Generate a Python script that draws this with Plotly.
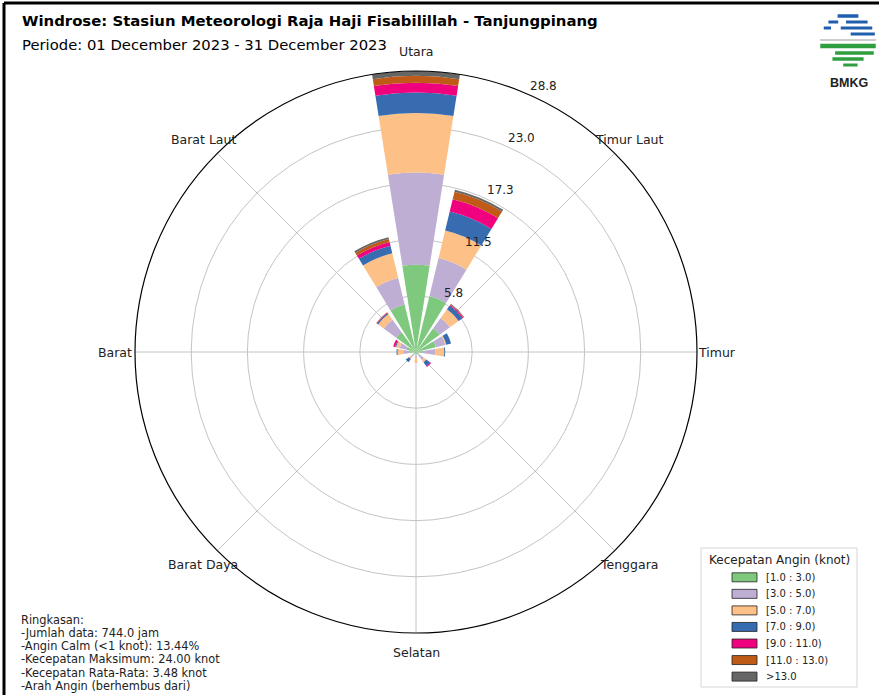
import math
import plotly.graph_objects as go

# ---------------- data ----------------
directions = ["N", "NNE", "NE", "ENE", "E", "ESE", "SE", "SSE",
              "S", "SSW", "SW", "WSW", "W", "WNW", "NW", "NNW"]
theta_deg = [0, 22.5, 45, 67.5, 90, 112.5, 135, 157.5,
             180, 202.5, 225, 247.5, 270, 292.5, 315, 337.5]

speed_bins = ["[1.0 : 3.0)", "[3.0 : 5.0)", "[5.0 : 7.0)", "[7.0 : 9.0)",
              "[9.0 : 11.0)", "[11.0 : 13.0)", ">13.0"]
bin_colors = ["#7fc97f", "#beaed4", "#fdc086", "#386cb0",
              "#f0027f", "#bf5b17", "#666666"]

# frequency (%) per direction, one list per speed bin
v_1_3 = [8.95, 5.9, 3.0, 2.1, 0.7, 0.2, 0.4, 0.2, 0.3, 0.1, 0.3, 0.2, 0.7, 1.0, 2.5, 5.0]
v_3_5 = [9.45, 4.0, 1.3, 1.0, 1.3, 0.1, 0.6, 0.05, 0.3, 0.1, 0.3, 0.1, 0.6, 0.7, 1.6, 2.8]
v_5_7 = [6.1, 2.9, 1.1, 0.1, 0.9, 0.0, 0.3, 0.0, 0.5, 0.0, 0.3, 0.0, 0.6, 0.4, 0.7, 2.6]
v_7_9 = [2.1, 2.0, 0.5, 0.5, 0.1, 0.0, 0.5, 0.0, 0.0, 0.0, 0.4, 0.0, 0.1, 0.1, 0.15, 0.8]
v_9_11 = [1.0, 1.3, 0.1, 0.0, 0.0, 0.0, 0.1, 0.0, 0.0, 0.0, 0.0, 0.0, 0.0, 0.2, 0.05, 0.4]
v_11_13 = [0.7, 0.8, 0.05, 0.0, 0.0, 0.0, 0.0, 0.0, 0.0, 0.0, 0.0, 0.0, 0.0, 0.0, 0.05, 0.3]
v_13p = [0.5, 0.2, 0.05, 0.0, 0.0, 0.0, 0.0, 0.0, 0.0, 0.0, 0.0, 0.0, 0.0, 0.0, 0.0, 0.2]
series = [v_1_3, v_3_5, v_5_7, v_7_9, v_9_11, v_11_13, v_13p]

radial_max = 28.8
radial_ticks = [5.76, 11.52, 17.28, 23.04, 28.8]
radial_ticktext = ["5.8", "11.5", "17.3", "23.0", "28.8"]

compass_vals = [0, 45, 90, 135, 180, 225, 270, 315]
compass_text = ["Utara", "Timur Laut", "Timur", "Tenggara",
                "Selatan", "Barat Daya", "Barat", "Barat Laut"]

title_text = "Windrose: Stasiun Meteorologi Raja Haji Fisabilillah - Tanjungpinang"
period_text = "Periode: 01 December 2023 - 31 December 2023"
legend_title = "Kecepatan Angin (knot)"
summary_lines = ["Ringkasan:",
                 "-Jumlah data: 744.0 jam",
                 "-Angin Calm (<1 knot): 13.44%",
                 "-Kecepatan Maksimum: 24.00 knot",
                 "-Kecepatan Rata-Rata: 3.48 knot",
                 "-Arah Angin (berhembus dari)"]

# ---------------- figure ----------------
W, H = 879, 695
FONT = "DejaVu Sans"


def px(x, y):
    return x / W, 1 - y / H


fig = go.Figure()
for name, col, vals in zip(speed_bins, bin_colors, series):
    fig.add_trace(go.Barpolar(
        r=vals, theta=theta_deg, name=name, width=18,
        marker=dict(color=col, line=dict(width=0)),
        hoverinfo="skip", showlegend=False,
    ))

cx, cy, R = 416, 352, 281
fig.update_layout(
    width=W, height=H,
    margin=dict(l=0, r=0, t=0, b=0, autoexpand=False),
    paper_bgcolor="white",
    font=dict(family=FONT, color="#222"),
    showlegend=False,
    polar=dict(
        domain=dict(x=[(cx - R) / W, (cx + R) / W],
                    y=[1 - (cy + R) / H, 1 - (cy - R) / H]),
        bgcolor="white",
        barmode="stack",
        angularaxis=dict(
            rotation=90, direction="clockwise", thetaunit="degrees",
            tickmode="array", tickvals=compass_vals, ticktext=compass_text,
            showticklabels=False,
            showline=True, linecolor="black", linewidth=1.2,
            gridcolor="#c4c4c4", gridwidth=1, ticks="",
        ),
        radialaxis=dict(
            range=[0, radial_max], tickmode="array",
            tickvals=radial_ticks, ticktext=radial_ticktext,
            showticklabels=False,
            showline=False, ticks="",
            gridcolor="#c4c4c4", gridwidth=1,
        ),
    ),
)

# axis labels placed like matplotlib's polar axes (computed from the polar geometry)
label_r = R * 1.07
for ang, txt in zip(compass_vals, compass_text):
    a = math.radians(ang)
    p = px(cx + label_r * math.sin(a), cy - label_r * math.cos(a))
    fig.add_annotation(text=txt, x=p[0], y=p[1], xref="paper", yref="paper",
                       xanchor="center", yanchor="middle", showarrow=False,
                       font=dict(size=12.5, family=FONT, color="#222"))

rl_ang = math.radians(22.5)
for val, txt in zip(radial_ticks, radial_ticktext):
    rp = val / radial_max * R
    p = px(cx + rp * math.sin(rl_ang) + 4, cy - rp * math.cos(rl_ang) - 6.6)
    fig.add_annotation(text=txt, x=p[0], y=p[1], xref="paper", yref="paper",
                       xanchor="left", yanchor="middle", showarrow=False,
                       font=dict(size=12, family=FONT, color="#222"))

# title & subtitle
fig.add_annotation(text="<b>" + title_text + "</b>", x=20 / W, y=1 - 21 / H,
                   xref="paper", yref="paper", xanchor="left", yanchor="middle",
                   showarrow=False, font=dict(size=14.9, family=FONT, color="black"))
fig.add_annotation(text=period_text, x=20 / W, y=1 - 44 / H,
                   xref="paper", yref="paper", xanchor="left", yanchor="middle",
                   showarrow=False, font=dict(size=14.8, family=FONT, color="black"))

# summary
y0 = 619.5
for i, line in enumerate(summary_lines):
    fig.add_annotation(text=line, x=20 / W, y=1 - (y0 + i * 13.3) / H,
                       xref="paper", yref="paper", xanchor="left", yanchor="middle",
                       showarrow=False, borderpad=0,
                       font=dict(size=11.4, family=FONT, color="#222"))

# frame border (top & left)
fig.add_shape(type="line", xref="paper", yref="paper", x0=4 / W, x1=4 / W, y0=0, y1=1 - 3 / H,
              line=dict(color="black", width=3))
fig.add_shape(type="line", xref="paper", yref="paper", x0=4 / W, x1=1, y0=1 - 3 / H, y1=1 - 3 / H,
              line=dict(color="black", width=3))

# ---- legend (drawn manually to match matplotlib spacing) ----
lx0, ly0, lx1, ly1 = 701, 548, 857, 687
a0, b0 = px(lx0, ly0)
a1, b1 = px(lx1, ly1)
fig.add_shape(type="rect", xref="paper", yref="paper", x0=a0, x1=a1, y0=b1, y1=b0,
              line=dict(color="#d6d6d6", width=1), fillcolor="white")
tx, ty = px(779, 560)
fig.add_annotation(text=legend_title, x=tx, y=ty, xref="paper", yref="paper",
                   xanchor="center", yanchor="middle", showarrow=False, borderpad=0,
                   font=dict(size=12, family=FONT, color="#222"))
for i, (name, col) in enumerate(zip(speed_bins, bin_colors)):
    yc = 577.3 + i * 16.55
    p0 = px(732, yc - 4.5)
    p1 = px(757, yc + 4.5)
    fig.add_shape(type="rect", xref="paper", yref="paper", x0=p0[0], x1=p1[0], y0=p1[1], y1=p0[1],
                  line=dict(color="#222", width=0.8), fillcolor=col)
    q = px(765, yc)
    fig.add_annotation(text=name, x=q[0], y=q[1], xref="paper", yref="paper",
                       xanchor="left", yanchor="middle", showarrow=False, borderpad=0,
                       font=dict(size=10, family=FONT, color="#222"))

# ---- BMKG logo (simple drawing) ----
lcx, lcy, lr = 848, 42, 28
blue = "#1f5fae"
green = "#2e9e3e"
# (y, fraction start from left, fraction end, color, width)
logo_stripes = [
    (16, 0.0, 1.0, blue, 3.5),
    (22, 0.0, 0.25, blue, 3), (22, 0.45, 1.0, blue, 3),
    (28, 0.0, 0.15, blue, 3), (28, 0.35, 1.0, blue, 3),
    (34, 0.55, 1.0, blue, 3),
    (40, 0.0, 1.0, "#9a9a9a", 1),
    (46, 0.0, 1.0, green, 4.5),
    (53, 0.25, 1.0, green, 3.5),
    (59, 0.15, 0.85, green, 3.5),
    (65, 0.35, 0.8, green, 3),
]
for yy, f0, f1, c, w in logo_stripes:
    half = math.sqrt(max(lr ** 2 - (yy - lcy) ** 2, 0))
    xa = lcx - half + 2 * half * f0
    xb = lcx - half + 2 * half * f1
    s0 = px(xa, yy)
    s1 = px(xb, yy)
    fig.add_shape(type="line", xref="paper", yref="paper", x0=s0[0], x1=s1[0], y0=s0[1], y1=s1[1],
                  line=dict(color=c, width=w))
bx, by = px(849, 83)
fig.add_annotation(text="<b>BMKG</b>", x=bx, y=by, xref="paper", yref="paper",
                   xanchor="center", yanchor="middle",
                   showarrow=False, font=dict(size=12.5, family="Liberation Sans", color="#222"))

fig.write_html("out.html")
